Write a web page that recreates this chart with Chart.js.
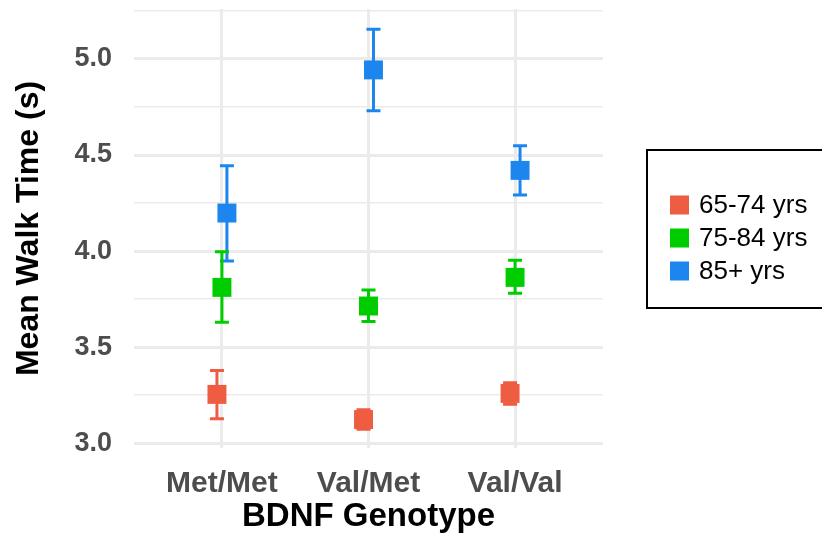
<!DOCTYPE html>
<html>
<head>
<meta charset="utf-8">
<script src="https://cdn.jsdelivr.net/npm/chart.js@4.4.1/dist/chart.umd.min.js"></script>
<style>
    body { margin: 0; background: #fff; }
    canvas { display: block; }
</style>
</head>
<body>
<canvas id="myChart" width="822" height="547"></canvas>
<script>
// BDNF genotype groups
var genotypes = ['Met/Met', 'Val/Met', 'Val/Val'];
var groupNames = ['65-74 yrs', '75-84 yrs', '85+ yrs'];
var groupColors = ['#EE5C42', '#00CD00', '#1C86EE'];

// mean walk time (s)
var mean65 = [3.254, 3.123, 3.259];
var mean75 = [3.811, 3.714, 3.863];
var mean85 = [4.198, 4.943, 4.420];

// error bar ends
var low65 = [3.127, 3.072, 3.203];
var high65 = [3.379, 3.174, 3.315];
var low75 = [3.630, 3.634, 3.780];
var high75 = [3.996, 3.798, 3.952];
var low85 = [3.948, 4.731, 4.292];
var high85 = [4.444, 5.155, 4.548];

// y ticks (labelled) and minor grid lines
var yTicks = [3.0, 3.5, 4.0, 4.5, 5.0];
var yMinor = [3.25, 3.75, 4.25, 4.75, 5.25];

var dodge = [-0.034, 0, 0.034];
var font = 'Liberation Sans, Arial, Helvetica, sans-serif';

function isMajor(v) {
    return yTicks.indexOf(v) >= 0;
}

function makeSet(k, means, lows, highs) {
    var pts = [];
    for (var i = 0; i < means.length; i++) {
        pts.push({ x: i + 1 + dodge[k], y: means[i], lo: lows[i], hi: highs[i] });
    }
    return {
        label: groupNames[k],
        data: pts,
        backgroundColor: groupColors[k],
        borderColor: groupColors[k],
        borderWidth: 0,
        pointStyle: 'rect',
        pointRadius: 13.4,
        pointHoverRadius: 13.4,
        showLine: false
    };
}

var errorBars = {
    id: 'errorBars',
    beforeDatasetsDraw: function (chart) {
        var ctx = chart.ctx;
        var xs = chart.scales.x;
        var ys = chart.scales.y;
        ctx.save();
        for (var d = chart.data.datasets.length - 1; d >= 0; d--) {
            var ds = chart.data.datasets[d];
            ctx.strokeStyle = ds.borderColor;
            ctx.lineWidth = 3;
            ds.data.forEach(function (p) {
                var px = xs.getPixelForValue(p.x);
                var y1 = ys.getPixelForValue(p.lo);
                var y2 = ys.getPixelForValue(p.hi);
                ctx.beginPath();
                ctx.moveTo(px, y1);
                ctx.lineTo(px, y2);
                ctx.moveTo(px - 7, y1);
                ctx.lineTo(px + 7, y1);
                ctx.moveTo(px - 7, y2);
                ctx.lineTo(px + 7, y2);
                ctx.stroke();
            });
        }
        ctx.restore();
    }
};

var legendBox = {
    id: 'legendBox',
    afterDraw: function (chart) {
        var ctx = chart.ctx;
        var left = chart.chartArea.right + 44;
        var top = 150;
        ctx.save();
        ctx.strokeStyle = '#000';
        ctx.lineWidth = 2;
        ctx.strokeRect(left, top, 900 - left, 158);
        ctx.font = '26px ' + font;
        ctx.textBaseline = 'middle';
        ctx.textAlign = 'left';
        chart.data.datasets.forEach(function (ds, i) {
            var cy = 205 + i * 33;
            ctx.fillStyle = ds.backgroundColor;
            ctx.fillRect(left + 23, cy - 9.5, 19, 19);
            ctx.fillStyle = '#000';
            ctx.fillText(ds.label, left + 52, cy + 1);
        });
        ctx.restore();
    }
};

new Chart('myChart', {
    type: 'scatter',
    data: {
        datasets: [
            makeSet(0, mean65, low65, high65),
            makeSet(1, mean75, low75, high75),
            makeSet(2, mean85, low85, high85)
        ]
    },
    options: {
        responsive: false,
        animation: false,
        layout: { autoPadding: false, padding: { top: 9, right: 219, bottom: 0, left: 0 } },
        plugins: {
            legend: { display: false },
            tooltip: { enabled: false }
        },
        scales: {
            x: {
                type: 'linear',
                min: 0.4,
                max: 3.6,
                afterBuildTicks: function (scale) {
                    scale.ticks = genotypes.map(function (g, i) { return { value: i + 1 }; });
                },
                afterFit: function (scale) {
                    scale.height = 99;
                    scale.paddingLeft = 0;
                    scale.paddingRight = 0;
                },
                ticks: {
                    padding: 18,
                    color: '#4D4D4D',
                    font: { family: font, size: 30, weight: 'bold' },
                    callback: function (v) { return genotypes[Math.round(v) - 1]; }
                },
                grid: { color: '#EBEBEB', lineWidth: 3, drawTicks: false },
                border: { display: false },
                title: {
                    display: true,
                    text: 'BDNF Genotype',
                    color: '#000',
                    font: { family: font, size: 33, weight: 'bold' },
                    padding: { top: 0, bottom: 10 }
                }
            },
            y: {
                min: 2.975,
                max: 5.26,
                afterBuildTicks: function (scale) {
                    scale.ticks = yTicks.concat(yMinor).sort().map(function (v) { return { value: v }; });
                },
                afterFit: function (scale) {
                    scale.width = 134;
                    scale.paddingTop = 0;
                    scale.paddingBottom = 0;
                },
                ticks: {
                    padding: 22,
                    color: '#4D4D4D',
                    font: function (c) {
                        var minor = c.tick && !isMajor(c.tick.value);
                        return { family: font, size: minor ? 1 : 27, weight: 'bold' };
                    },
                    callback: function (v) { return isMajor(v) ? v.toFixed(1) : ''; }
                },
                grid: {
                    color: '#EBEBEB',
                    drawTicks: false,
                    lineWidth: function (c) { return c.tick && isMajor(c.tick.value) ? 3 : 1.5; }
                },
                border: { display: false },
                title: {
                    display: true,
                    text: 'Mean Walk Time (s)',
                    color: '#000',
                    font: { family: font, size: 32, weight: 'bold' },
                    padding: { top: 10, bottom: 0 }
                }
            }
        }
    },
    plugins: [errorBars, legendBox]
});
</script>
</body>
</html>
